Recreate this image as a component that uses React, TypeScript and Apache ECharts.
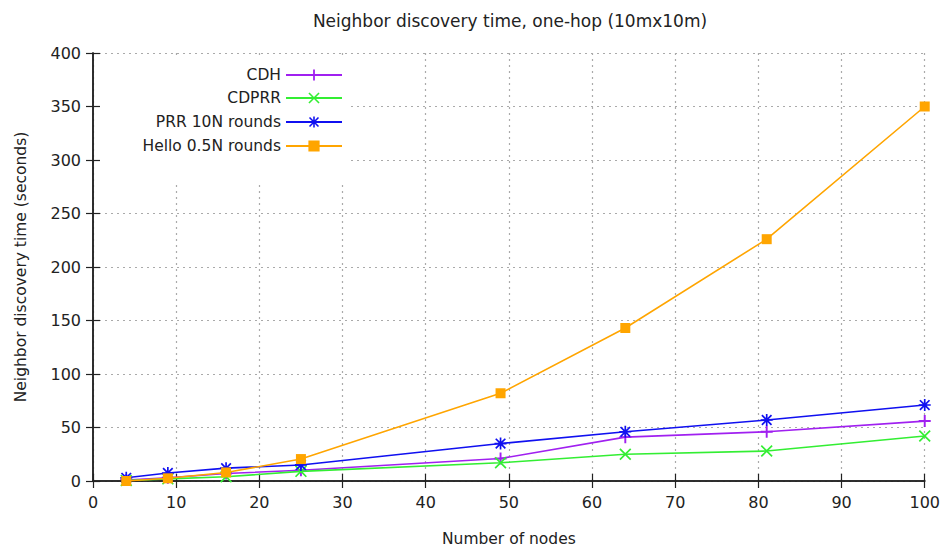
import React, { useEffect, useRef } from "react";
import * as echarts from "echarts";

const nodes = [4, 9, 16, 25, 49, 64, 81, 100];
const cdh = [1, 3, 7, 10, 21, 41, 46, 56];
const cdprr = [0.5, 2, 4, 9, 17, 25, 28, 42];
const prr = [3, 7.5, 12, 15, 35, 46, 57, 71];
const hello = [0, 2.5, 8, 20.5, 82, 143, 226, 350];
const seriesNames = ["CDH", "CDPRR", "PRR 10N rounds", "Hello 0.5N rounds"];
const seriesColors = ["#a020f0", "#33ee33", "#1010f0", "#ffa500"];

const FONT = "DejaVu Sans";
const PLUS = "path://M4.2,0 H5.8 V4.2 H10 V5.8 H5.8 V10 H4.2 V5.8 H0 V4.2 H4.2 Z";
const CROSS = "path://M0,1 L1,0 L5,4 L9,0 L10,1 L6,5 L10,9 L9,10 L5,6 L1,10 L0,9 L4,5 Z";
const STAR =
  "path://M4.3,0 H5.7 V4.3 H10 V5.7 H5.7 V10 H4.3 V5.7 H0 V4.3 H4.3 Z M0.5,1.5 L1.5,0.5 L5,4 L8.5,0.5 L9.5,1.5 L6,5 L9.5,8.5 L8.5,9.5 L5,6 L1.5,9.5 L0.5,8.5 L4,5 Z";

export default function App() {
  const ref = useRef<HTMLDivElement>(null);
  useEffect(() => {
    if (!ref.current) return;
    const chart = echarts.init(ref.current, undefined, { renderer: "svg" });
    const datasets = [cdh, cdprr, prr, hello];
    const symbols = [PLUS, CROSS, STAR, "rect"];
    const sizes = [12, 12, 12, 10];
    const legendTops = [75, 98, 122, 146];
    const axisText = { color: "#222", fontFamily: FONT, fontSize: 16 };
    const tick = { show: true, inside: true, length: 7, lineStyle: { color: "#222", width: 1.2 } };
    const line = { show: true, lineStyle: { color: "#222", width: 1.5 } };
    const split = { show: true, lineStyle: { color: "#aaa", type: [2, 4] as any, width: 1.2 } };
    chart.setOption({
      animation: false,
      backgroundColor: "#fff",
      title: {
        text: "Neighbor discovery time, one-hop (10mx10m)",
        left: 505,
        textAlign: "center",
        top: 7,
        textStyle: { fontFamily: FONT, fontSize: 17, fontWeight: "normal", color: "#222" },
      },
      grid: { left: 93, right: 18, top: 53, bottom: 72 },
      legend: seriesNames.map((n, i) => ({
        data: [n],
        orient: "horizontal",
        align: "right",
        right: 943 - 343,
        top: legendTops[i] - 8,
        itemWidth: 56,
        itemHeight: 14,
        selectedMode: false,
        padding: 0,
        textStyle: { fontFamily: FONT, fontSize: 15.5, color: "#222" },
      })),
      graphic: [
        {
          type: "rect",
          z: 1,
          shape: { x: 95, y: 55, width: 253, height: 128 },
          style: { fill: "#fff" },
        },
      ],
      xAxis: [
        {
          type: "value",
          min: 0,
          max: 100,
          interval: 10,
          z: 0,
          name: "Number of nodes",
          nameLocation: "middle",
          nameGap: 50,
          nameTextStyle: { ...axisText, fontSize: 15.5 },
          axisLabel: { ...axisText, margin: 13 },
          axisTick: tick,
          axisLine: line,
          splitLine: split,
        },
        {
          type: "value",
          position: "top",
          min: 0,
          max: 100,
          interval: 10,
          z: 3,
          axisLabel: { show: false },
          axisTick: tick,
          axisLine: line,
          splitLine: { show: false },
        },
      ],
      yAxis: [
        {
          type: "value",
          min: 0,
          max: 400,
          interval: 50,
          z: 3,
          name: "Neighbor discovery time (seconds)",
          nameLocation: "middle",
          nameGap: 64,
          nameTextStyle: { ...axisText, fontSize: 15.5 },
          axisLabel: { ...axisText, margin: 12 },
          axisTick: tick,
          axisLine: line,
          splitLine: { show: false },
        },
        {
          type: "value",
          position: "right",
          min: 0,
          max: 400,
          interval: 50,
          z: 0,
          axisLabel: { show: false },
          axisTick: tick,
          axisLine: line,
          splitLine: split,
        },
      ],
      series: seriesNames.map((n, i) => ({
        name: n,
        type: "line",
        xAxisIndex: 0,
        yAxisIndex: 0,
        data: nodes.map((x, j) => [x, datasets[i][j]]),
        symbol: symbols[i],
        symbolSize: sizes[i],
        showAllSymbol: true,
        color: seriesColors[i],
        itemStyle: { color: seriesColors[i] },
        lineStyle: { color: seriesColors[i], width: 1.6 },
        z: 2 + i,
      })),
    });
    return () => chart.dispose();
  }, []);
  return (
    <div
      ref={ref}
      style={{ position: "absolute", left: 0, top: 0, width: 943, height: 553 }}
    />
  );
}
